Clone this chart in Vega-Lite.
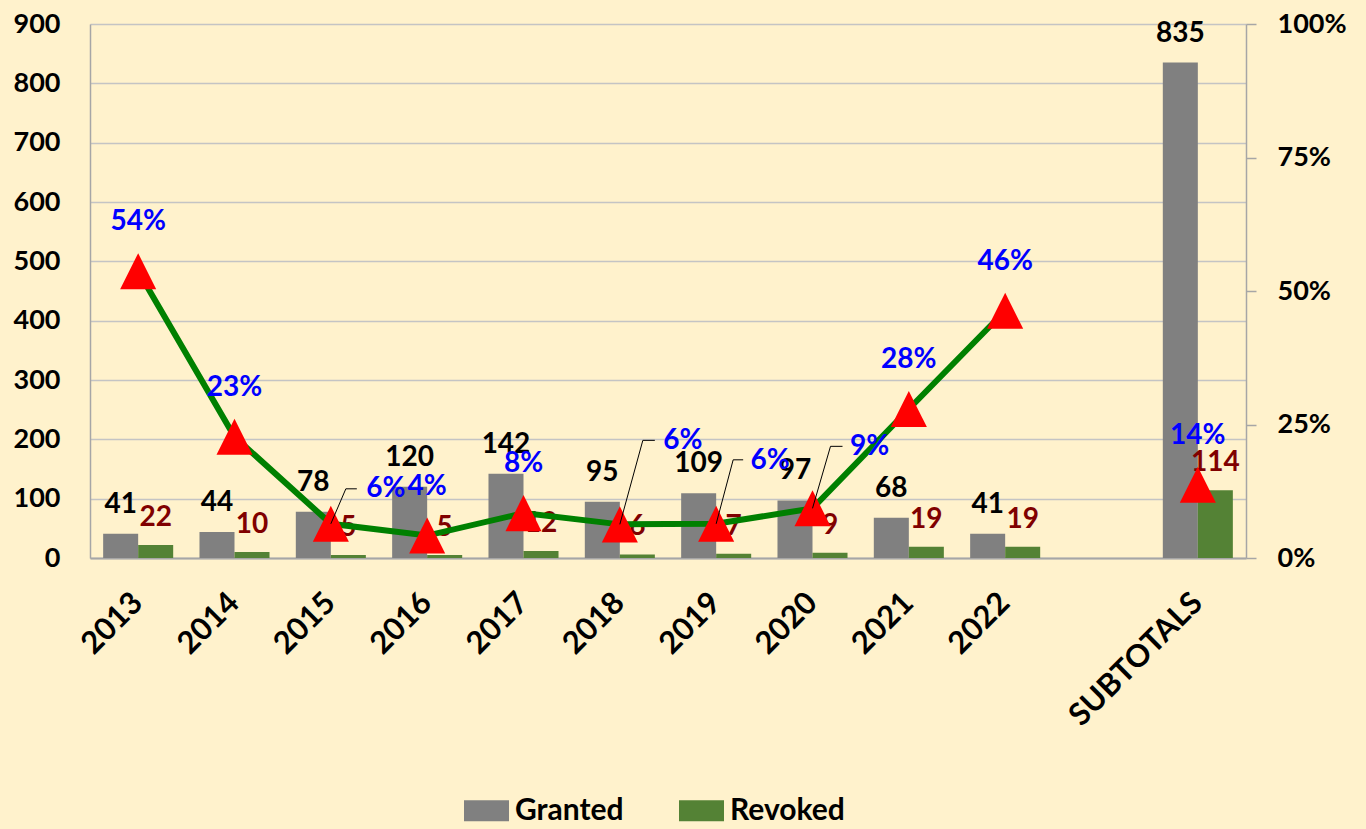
{
  "$schema": "https://vega.github.io/schema/vega-lite/v6.json",
  "width": 1156,
  "height": 534,
  "autosize": "none",
  "padding": {"left": 90, "top": 24, "right": 120, "bottom": 271},
  "background": "#FFF2CC",
  "config": {
    "view": {"stroke": null},
    "font": "Lato",
    "text": {"font": "Lato", "fontWeight": "bold", "fontSize": 28}
  },
  "datasets": {
    "bars": [
      {"cat": "2013", "series": "Granted", "value": 41},
      {"cat": "2013", "series": "Revoked", "value": 22},
      {"cat": "2014", "series": "Granted", "value": 44},
      {"cat": "2014", "series": "Revoked", "value": 10},
      {"cat": "2015", "series": "Granted", "value": 78},
      {"cat": "2015", "series": "Revoked", "value": 5},
      {"cat": "2016", "series": "Granted", "value": 120},
      {"cat": "2016", "series": "Revoked", "value": 5},
      {"cat": "2017", "series": "Granted", "value": 142},
      {"cat": "2017", "series": "Revoked", "value": 12},
      {"cat": "2018", "series": "Granted", "value": 95},
      {"cat": "2018", "series": "Revoked", "value": 6},
      {"cat": "2019", "series": "Granted", "value": 109},
      {"cat": "2019", "series": "Revoked", "value": 7},
      {"cat": "2020", "series": "Granted", "value": 97},
      {"cat": "2020", "series": "Revoked", "value": 9},
      {"cat": "2021", "series": "Granted", "value": 68},
      {"cat": "2021", "series": "Revoked", "value": 19},
      {"cat": "2022", "series": "Granted", "value": 41},
      {"cat": "2022", "series": "Revoked", "value": 19},
      {"cat": "SUBTOTALS", "series": "Granted", "value": 835},
      {"cat": "SUBTOTALS", "series": "Revoked", "value": 114}
    ],
    "pct": [
      {"cat": "2013", "pct": 0.537, "grp": "years"},
      {"cat": "2014", "pct": 0.227, "grp": "years"},
      {"cat": "2015", "pct": 0.064, "grp": "years"},
      {"cat": "2016", "pct": 0.042, "grp": "years"},
      {"cat": "2017", "pct": 0.084, "grp": "years"},
      {"cat": "2018", "pct": 0.063, "grp": "years"},
      {"cat": "2019", "pct": 0.064, "grp": "years"},
      {"cat": "2020", "pct": 0.093, "grp": "years"},
      {"cat": "2021", "pct": 0.279, "grp": "years"},
      {"cat": "2022", "pct": 0.463, "grp": "years"},
      {"cat": "SUBTOTALS", "pct": 0.137, "grp": "total"}
    ]
  },
  "encoding": {
    "x": {
      "field": "cat",
      "type": "nominal",
      "sort": null,
      "scale": {
        "domain": ["2013", "2014", "2015", "2016", "2017", "2018", "2019", "2020", "2021", "2022", " ", "SUBTOTALS"],
        "paddingInner": 0.273,
        "paddingOuter": 0.1365
      },
      "axis": {
        "title": null,
        "labelAngle": -45,
        "labelAlign": "right",
        "labelBaseline": "middle",
        "labelFont": "Lato",
        "labelFontSize": 31,
        "labelFontWeight": "bold",
        "labelColor": "#000000",
        "labelPadding": 40,
        "labelOverlap": false,
        "labelLimit": 0,
        "ticks": false,
        "domainColor": "#A6A6A6",
        "domainWidth": 2,
        "grid": false
      }
    }
  },
  "layer": [
    {
      "data": {"name": "bars"},
      "encoding": {
        "y": {
          "field": "value",
          "type": "quantitative",
          "scale": {"domain": [0, 900], "nice": false},
          "axis": {
            "title": null,
            "orient": "left",
            "values": [0, 100, 200, 300, 400, 500, 600, 700, 800, 900],
            "grid": true,
            "gridColor": "#C4C4C4",
            "gridWidth": 1.5,
            "ticks": false,
            "domainColor": "#A6A6A6",
            "domainWidth": 1.5,
            "labelPadding": 30,
            "labelFont": "Lato",
            "labelFontSize": 27,
            "labelFontWeight": "bold",
            "labelColor": "#000000"
          }
        },
        "xOffset": {"field": "series", "type": "nominal", "scale": {"domain": ["Granted", "Revoked"], "paddingInner": 0, "paddingOuter": 0}}
      },
      "layer": [
        {
          "mark": {"type": "bar"},
          "encoding": {
            "color": {
              "field": "series",
              "type": "nominal",
              "scale": {"domain": ["Granted", "Revoked"], "range": ["#808080", "#548235"]},
              "legend": {
                "title": null,
                "orient": "none",
                "legendX": 374,
                "legendY": 764,
                "direction": "horizontal",
                "symbolType": "M-1,-0.47H1V0.47H-1Z",
                "symbolSize": 2025,
                "symbolStrokeWidth": 0,
                "symbolOpacity": 1,
                "labelFont": "Lato",
                "labelFontSize": 30,
                "labelFontWeight": "bold",
                "labelColor": "#000000",
                "labelOffset": 6,
                "columnPadding": 55
              }
            }
          }
        },
        {
          "transform": [{"filter": "datum.series === 'Granted'"}],
          "mark": {"type": "text", "baseline": "alphabetic", "dy": -21, "color": "#000000"},
          "encoding": {"text": {"field": "value", "type": "quantitative"}}
        },
        {
          "transform": [{"filter": "datum.series === 'Revoked'"}],
          "mark": {"type": "text", "baseline": "alphabetic", "dy": -19, "color": "#800000"},
          "encoding": {"text": {"field": "value", "type": "quantitative"}}
        }
      ]
    },
    {
      "data": {"name": "pct"},
      "encoding": {
        "y": {
          "field": "pct",
          "type": "quantitative",
          "scale": {"domain": [0, 1], "nice": false},
          "axis": {
            "title": null,
            "orient": "right",
            "values": [0, 0.25, 0.5, 0.75, 1],
            "format": ".0%",
            "grid": false,
            "ticks": true,
            "tickSize": 10,
            "tickColor": "#A6A6A6",
            "tickWidth": 1.5,
            "domainColor": "#A6A6A6",
            "domainWidth": 1.5,
            "labelPadding": 21,
            "labelFont": "Lato",
            "labelFontSize": 27,
            "labelFontWeight": "bold",
            "labelColor": "#000000"
          }
        }
      },
      "layer": [
        {
          "mark": {"type": "line", "color": "#008000", "strokeWidth": 6},
          "encoding": {"detail": {"field": "grp", "type": "nominal"}}
        },
        {
          "mark": {"type": "point", "shape": "M0,-1L1,1L-1,1Z", "filled": true, "color": "#FF0000", "size": 1300, "opacity": 1, "strokeWidth": 0}
        },
        {
          "transform": [{"filter": "indexof(['2015','2018','2019','2020'], datum.cat) < 0"}],
          "mark": {"type": "text", "baseline": "middle", "dy": -49, "color": "#0000FF"},
          "encoding": {"text": {"field": "pct", "type": "quantitative", "format": ".0%"}}
        },
        {
          "transform": [{"filter": "datum.cat === '2015'"}],
          "mark": {"type": "text", "baseline": "middle", "dx": 55, "dy": -35, "color": "#0000FF"},
          "encoding": {"text": {"field": "pct", "type": "quantitative", "format": ".0%"}}
        },
        {
          "transform": [{"filter": "datum.cat === '2018'"}],
          "mark": {"type": "text", "baseline": "middle", "dx": 63, "dy": -83, "color": "#0000FF"},
          "encoding": {"text": {"field": "pct", "type": "quantitative", "format": ".0%"}}
        },
        {
          "transform": [{"filter": "datum.cat === '2019'"}],
          "mark": {"type": "text", "baseline": "middle", "dx": 54, "dy": -63, "color": "#0000FF"},
          "encoding": {"text": {"field": "pct", "type": "quantitative", "format": ".0%"}}
        },
        {
          "transform": [{"filter": "datum.cat === '2020'"}],
          "mark": {"type": "text", "baseline": "middle", "dx": 57, "dy": -61, "color": "#0000FF"},
          "encoding": {"text": {"field": "pct", "type": "quantitative", "format": ".0%"}}
        },
        {
          "transform": [{"filter": "datum.cat === '2015'"}],
          "mark": {"type": "rule", "color": "#000000", "strokeWidth": 1, "x2Offset": 15, "y2Offset": -35},
          "encoding": {"x2": {"field": "cat"}, "y2": {"field": "pct"}}
        },
        {
          "transform": [{"filter": "datum.cat === '2015'"}],
          "mark": {"type": "rule", "color": "#000000", "strokeWidth": 1, "xOffset": 15, "yOffset": -35, "x2Offset": 26, "y2Offset": -35},
          "encoding": {"x2": {"field": "cat"}, "y2": {"field": "pct"}}
        },
        {
          "transform": [{"filter": "datum.cat === '2018'"}],
          "mark": {"type": "rule", "color": "#000000", "strokeWidth": 1, "x2Offset": 23, "y2Offset": -84},
          "encoding": {"x2": {"field": "cat"}, "y2": {"field": "pct"}}
        },
        {
          "transform": [{"filter": "datum.cat === '2018'"}],
          "mark": {"type": "rule", "color": "#000000", "strokeWidth": 1, "xOffset": 23, "yOffset": -84, "x2Offset": 35, "y2Offset": -84},
          "encoding": {"x2": {"field": "cat"}, "y2": {"field": "pct"}}
        },
        {
          "transform": [{"filter": "datum.cat === '2019'"}],
          "mark": {"type": "rule", "color": "#000000", "strokeWidth": 1, "x2Offset": 17, "y2Offset": -64},
          "encoding": {"x2": {"field": "cat"}, "y2": {"field": "pct"}}
        },
        {
          "transform": [{"filter": "datum.cat === '2019'"}],
          "mark": {"type": "rule", "color": "#000000", "strokeWidth": 1, "xOffset": 17, "yOffset": -64, "x2Offset": 27, "y2Offset": -64},
          "encoding": {"x2": {"field": "cat"}, "y2": {"field": "pct"}}
        },
        {
          "transform": [{"filter": "datum.cat === '2020'"}],
          "mark": {"type": "rule", "color": "#000000", "strokeWidth": 1, "x2Offset": 18, "y2Offset": -62},
          "encoding": {"x2": {"field": "cat"}, "y2": {"field": "pct"}}
        },
        {
          "transform": [{"filter": "datum.cat === '2020'"}],
          "mark": {"type": "rule", "color": "#000000", "strokeWidth": 1, "xOffset": 18, "yOffset": -62, "x2Offset": 30, "y2Offset": -62},
          "encoding": {"x2": {"field": "cat"}, "y2": {"field": "pct"}}
        }
      ]
    }
  ],
  "resolve": {"scale": {"y": "independent"}, "axis": {"y": "independent"}}
}
